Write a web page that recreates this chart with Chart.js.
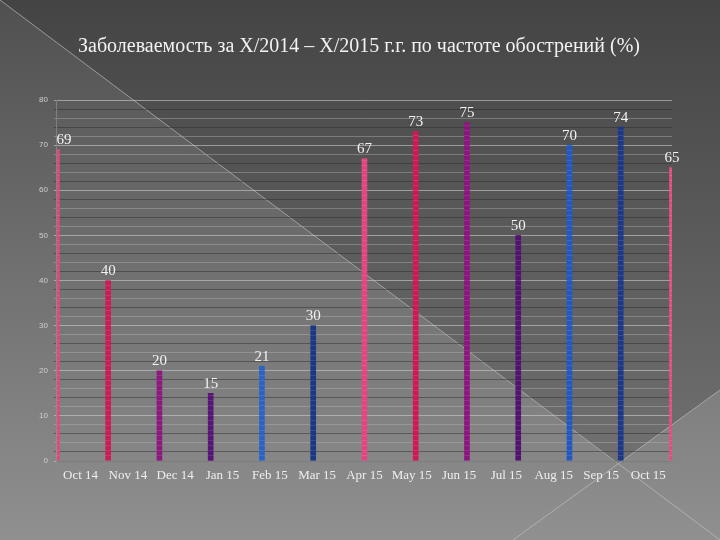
<!DOCTYPE html>
<html>
<head>
<meta charset="utf-8">
<script src="https://cdn.jsdelivr.net/npm/chart.js@4"></script>
<style>
  html, body { margin: 0; padding: 0; background: #555; }
  #chart { display: block; }
</style>
</head>
<body>
<canvas id="chart" width="720" height="540"></canvas>
<script>
// данные
const categories = ["Oct 14", "Nov 14", "Dec 14", "Jan 15", "Feb 15", "Mar 15", "Apr 15",
  "May 15", "Jun 15", "Jul 15", "Aug 15", "Sep 15", "Oct 15"];
const values = [69, 40, 20, 15, 21, 30, 67, 73, 75, 50, 70, 74, 65];
const barColors = ["#e0467f", "#c81d55", "#8c1a7e", "#561577", "#2a63c4", "#1d3883", "#e0467f",
  "#cc1a56", "#8c1580", "#52136e", "#2258bf", "#1d3886", "#e0507f"];
const titleText = "Заболеваемость за X/2014 – X/2015 г.г. по частоте обострений (%)";

function makeStripes(color) {
  const c = document.createElement("canvas");
  c.width = 6;
  c.height = 5;
  const g = c.getContext("2d");
  g.fillStyle = color;
  g.fillRect(0, 0, 6, 5);
  g.fillStyle = "rgba(255,255,255,0.1)";
  g.fillRect(0, 0, 6, 1);
  return g.createPattern(c, "repeat");
}

// фон слайда: два серых треугольника, диагонали и заголовок
const slideBackground = {
  id: "slideBackground",
  beforeDraw(chart) {
    const { ctx, width, height } = chart;
    ctx.save();
    const light = ctx.createLinearGradient(0, 0, 0, height);
    light.addColorStop(0, "#505050");
    light.addColorStop(1, "#909090");
    ctx.fillStyle = light;
    ctx.fillRect(0, 0, width, height);

    const cross = { x: 618, y: 464 };
    const dark = ctx.createLinearGradient(0, 0, 0, height);
    dark.addColorStop(0, "#444444");
    dark.addColorStop(1, "#787878");
    ctx.fillStyle = dark;
    ctx.beginPath();
    ctx.moveTo(0, 0);
    ctx.lineTo(width, 0);
    ctx.lineTo(width, 390);
    ctx.lineTo(cross.x, cross.y);
    ctx.closePath();
    ctx.fill();

    ctx.strokeStyle = "rgba(195,195,195,0.65)";
    ctx.lineWidth = 1;
    ctx.beginPath();
    ctx.moveTo(0, 0);
    ctx.lineTo(width, height);
    ctx.moveTo(513, height);
    ctx.lineTo(width, 390);
    ctx.stroke();

    ctx.font = "20px 'Liberation Serif'";
    ctx.fillStyle = "#f2f2f2";
    ctx.textAlign = "center";
    ctx.textBaseline = "middle";
    ctx.fillText(titleText, 359, 47);
    ctx.restore();
  }
};

// подписи значений над столбиками
const valueLabels = {
  id: "valueLabels",
  afterDatasetsDraw(chart) {
    const { ctx, chartArea } = chart;
    const meta = chart.getDatasetMeta(0);
    ctx.save();
    ctx.font = "15px 'Liberation Serif'";
    ctx.fillStyle = "#f2f2f2";
    ctx.textAlign = "center";
    ctx.textBaseline = "bottom";
    meta.data.forEach((bar, i) => {
      const x = Math.max(bar.x, chartArea.left + 7);
      ctx.fillText(String(values[i]), x, bar.y - 2);
    });
    ctx.restore();
  }
};

const ctx = document.getElementById("chart").getContext("2d");

new Chart(ctx, {
  type: "bar",
  data: {
    labels: categories,
    datasets: [{
      data: values,
      backgroundColor: barColors.map(makeStripes),
      borderWidth: 0,
      barThickness: 5,
      xAxisID: "xb",
      yAxisID: "y"
    }]
  },
  options: {
    responsive: false,
    animation: false,
    devicePixelRatio: 1,
    layout: { padding: { left: 33, right: 48, top: 100, bottom: 49 } },
    plugins: {
      legend: { display: false },
      tooltip: { enabled: false },
      title: { display: false }
    },
    scales: {
      xb: { type: "category", offset: false, display: false },
      x: {
        type: "category",
        labels: categories,
        position: "bottom",
        offset: true,
        afterFit: s => { s.height = 30; },
        grid: { offset: true, drawOnChartArea: false, tickLength: 4, color: "rgba(140,140,140,0.9)" },
        border: { color: "rgba(120,120,120,0.9)" },
        ticks: {
          color: "#eeeeee",
          autoSkip: false,
          maxRotation: 0,
          padding: 3,
          font: { family: "'Liberation Serif'", size: 13 }
        }
      },
      y: {
        min: 0,
        max: 80,
        border: { color: "rgba(150,150,150,0.6)" },
        grid: {
          tickLength: 3,
          color: c => {
            const v = c.tick.value;
            if (v % 10 === 0) return "rgba(205,205,205,0.6)";
            if (v % 4 === 0) return "rgba(185,185,185,0.4)";
            return "rgba(40,40,40,0.45)";
          }
        },
        ticks: {
          stepSize: 2,
          maxTicksLimit: 50,
          autoSkip: false,
          padding: 6,
          color: "#cfcfcf",
          font: { family: "'Liberation Sans'", size: 8 },
          callback: v => (v % 10 === 0 ? v : "")
        }
      }
    }
  },
  plugins: [slideBackground, valueLabels]
});
</script>
</body>
</html>
